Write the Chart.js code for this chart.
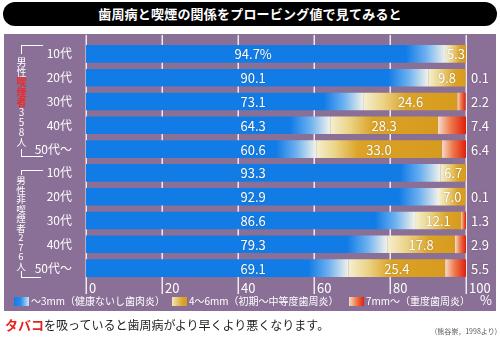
<!DOCTYPE html>
<html>
<head>
<meta charset="utf-8">
<script src="https://cdn.jsdelivr.net/npm/chart.js@4.4.1/dist/chart.umd.min.js"></script>
<style>
  html, body { margin: 0; padding: 0; background: #fff; }
  body { width: 500px; height: 342px; position: relative; overflow: hidden;
         font-family: "Noto Sans CJK JP", "Noto Sans", sans-serif; }
  #title { position: absolute; left: 3px; top: 2px; width: 494px; height: 24px;
           background: #000; border-radius: 12px; color: #fff; font-weight: bold;
           font-size: 13px; line-height: 24px; text-align: center; letter-spacing: 0.2px; }
  #panel { position: absolute; left: 4px; top: 34px; width: 492px; height: 277px; background: #8a6f96; }
  #chart { position: absolute; left: 0; top: 0; }
  .grp { position: absolute; writing-mode: vertical-rl; text-orientation: upright;
         color: #fff; white-space: nowrap; }
  .grp .hl { color: #ee2a2a; font-weight: bold; }
  .br { position: absolute; border-color: #fff; border-style: solid; border-width: 0; }
  .lg { position: absolute; top: 294px; color: #fff; font-size: 10px; line-height: 14px; white-space: nowrap; }
  .sw { position: absolute; top: 297px; width: 15px; height: 9px; }
  #note { position: absolute; left: 5px; top: 317px; font-size: 12px; line-height: 16px; color: #222; white-space: nowrap; }
  #note b { color: #e42420; font-size: 13px; }
  #src { position: absolute; right: 3px; top: 327px; font-size: 7px; line-height: 9px; color: #555; white-space: nowrap; }
</style>
</head>
<body>
<div id="title">歯周病と喫煙の関係をプロービング値で見てみると</div>
<div id="panel"></div>
<canvas id="chart" width="500" height="342"></canvas>

<div class="br" style="left:21px;top:45px;width:21px;height:8px;border-top-width:1px;border-left-width:1px;"></div>
<div class="grp" style="left:16px;top:57px;font-size:10px;line-height:10px;">男性<span class="hl">喫煙者</span>358人</div>
<div class="br" style="left:21px;top:149px;width:21px;height:7px;border-bottom-width:1px;border-left-width:1px;"></div>

<div class="br" style="left:21px;top:170px;width:21px;height:4px;border-top-width:1px;border-left-width:1px;"></div>
<div class="grp" style="left:16px;top:176px;font-size:9.5px;line-height:10px;">男性非喫煙者276人</div>
<div class="br" style="left:21px;top:271px;width:19px;height:6px;border-bottom-width:1px;border-left-width:1px;"></div>

<div class="sw" style="left:14px;background:linear-gradient(90deg,#127ce6 0%,#2a8cec 45%,#cfe4f8 100%);"></div>
<div class="lg" style="left:31px;">～3mm（健康ないし歯肉炎）</div>
<div class="sw" style="left:172px;background:linear-gradient(90deg,#f2e6b8 0%,#dca42a 70%,#d69b1e 100%);"></div>
<div class="lg" style="left:189px;">4～6mm（初期～中等度歯周炎）</div>
<div class="sw" style="left:349px;background:linear-gradient(90deg,#f5dcc8 0%,#ee7a4c 50%,#df1f0c 100%);"></div>
<div class="lg" style="left:366px;">7mm～（重度歯周炎）</div>

<div id="note"><b>タバコ</b>を吸っていると歯周病がより早くより悪くなります。</div>
<div id="src">(熊谷崇，1998より)</div>

<script>
// Age groups: smokers (358) first, then non-smokers (276)
const categories = ['10代', '20代', '30代', '40代', '50代～', '10代', '20代', '30代', '40代', '50代～'];
// Probing depth distribution, percent of each group
const shallow  = [94.7, 90.1, 73.1, 64.3, 60.6, 93.3, 92.9, 86.6, 79.3, 69.1]; // ～3mm
const moderate = [5.3, 9.8, 24.6, 28.3, 33.0, 6.7, 7.0, 12.1, 17.8, 25.4];    // 4～6mm
const severe   = [0, 0.1, 2.2, 7.4, 6.4, 0, 0.1, 1.3, 2.9, 5.5];              // 7mm～
const xTicks = [0, 20, 40, 60, 80, 100];

const series = [shallow, moderate, severe];
const FONT = '"Noto Sans CJK JP", "Noto Sans", sans-serif';
const fallback = ['#127ce6', '#d9a024', '#e02a10'];
const SHALLOW_LABEL_AT = 44; // value labels of the first segment sit in one column

// Per-bar horizontal gradient for each segment
function segmentFill(kind) {
  return (ctx) => {
    const chart = ctx.chart;
    const xs = chart.scales && chart.scales.x;
    if (ctx.type !== 'data' || !chart.chartArea || !xs) return fallback[kind];
    const i = ctx.dataIndex;
    let start = 0;
    for (let k = 0; k < kind; k++) start += series[k][i];
    const end = start + series[kind][i];
    const x0 = xs.getPixelForValue(start);
    const x1 = xs.getPixelForValue(end);
    const w = Math.max(x1 - x0, 1);
    const g = chart.ctx.createLinearGradient(x0, 0, x0 + w, 0);
    const f = (px) => Math.min(1, Math.max(0, px / w));
    if (kind === 0) {
      g.addColorStop(0, '#127ce6');
      g.addColorStop(f(w - 40), '#127ce6');
      g.addColorStop(f(w - 20), '#6cb0f0');
      g.addColorStop(1, '#f3f3ea');
    } else if (kind === 1) {
      const t = Math.min(42, w * 0.7);
      g.addColorStop(0, '#f4efcf');
      g.addColorStop(f(t * 0.45), '#ecd488');
      g.addColorStop(f(t), '#dba327');
      g.addColorStop(1, '#d69a1e');
    } else {
      g.addColorStop(0, '#f6dcc8');
      g.addColorStop(0.45, '#ee7a4c');
      g.addColorStop(1, '#df1f0c');
    }
    return g;
  };
}

// White vertical grid lines under the bars, plus the percent scale beside them
const gridLines = {
  id: 'gridLines',
  beforeDatasetsDraw(chart) {
    const { ctx, scales: { x } } = chart;
    ctx.save();
    ctx.strokeStyle = 'rgba(255,255,255,0.85)';
    ctx.lineWidth = 1.5;
    xTicks.forEach(v => {
      const px = Math.round(x.getPixelForValue(v)) + 0.25;
      ctx.beginPath();
      ctx.moveTo(px, 35);
      ctx.lineTo(px, 294);
      ctx.stroke();
    });
    ctx.fillStyle = '#fff';
    ctx.font = '13px ' + FONT;
    ctx.textBaseline = 'middle';
    ctx.textAlign = 'left';
    xTicks.forEach(v => {
      ctx.fillText(String(v), x.getPixelForValue(v) + 3, 288);
    });
    ctx.fillText('%', x.getPixelForValue(100) + 14, 300);
    ctx.restore();
  }
};

// Percent values on and beside the bars
const valueLabels = {
  id: 'valueLabels',
  afterDatasetsDraw(chart) {
    const { ctx, chartArea, scales: { x } } = chart;
    const m0 = chart.getDatasetMeta(0).data;
    const m1 = chart.getDatasetMeta(1).data;
    ctx.save();
    ctx.font = '13px ' + FONT;
    ctx.fillStyle = '#fff';
    ctx.textBaseline = 'middle';
    ctx.shadowColor = 'rgba(60,40,20,0.35)';
    ctx.shadowBlur = 1.5;
    categories.forEach((c, i) => {
      const y = m0[i].y + 0.5;
      ctx.textAlign = 'center';
      ctx.fillText(shallow[i].toFixed(1) + (i === 0 ? '%' : ''), x.getPixelForValue(SHALLOW_LABEL_AT), y);
      const cp = m1[i].getCenterPoint();
      ctx.fillText(moderate[i].toFixed(1), cp.x, y);
      if (severe[i] > 0) {
        ctx.textAlign = 'left';
        ctx.fillText(severe[i].toFixed(1), chartArea.right + 5, y);
      }
    });
    ctx.restore();
  }
};

const common = { borderWidth: 0, barPercentage: 0.74, categoryPercentage: 1 };

new Chart(document.getElementById('chart'), {
  type: 'bar',
  data: {
    labels: categories,
    datasets: [
      { label: '～3mm（健康ないし歯肉炎）', data: shallow, backgroundColor: segmentFill(0), ...common },
      { label: '4～6mm（初期～中等度歯周炎）', data: moderate, backgroundColor: segmentFill(1), ...common },
      { label: '7mm～（重度歯周炎）', data: severe, backgroundColor: segmentFill(2), ...common }
    ]
  },
  options: {
    indexAxis: 'y',
    responsive: false,
    animation: false,
    layout: { padding: { top: 42, right: 34, bottom: 0, left: 0 } },
    plugins: { legend: { display: false }, tooltip: { enabled: false } },
    scales: {
      x: {
        stacked: true, min: 0, max: 100,
        afterFit: s => { s.height = 62; },
        afterBuildTicks: s => { s.ticks = xTicks.map(v => ({ value: v })); },
        grid: { display: false }, border: { display: false },
        ticks: { display: false }
      },
      y: {
        stacked: true,
        afterFit: s => { s.width = 86; },
        grid: { display: false }, border: { display: false },
        ticks: { color: '#fff', padding: 6, font: { family: FONT, size: 12 } }
      }
    }
  },
  plugins: [gridLines, valueLabels]
});
</script>
</body>
</html>
